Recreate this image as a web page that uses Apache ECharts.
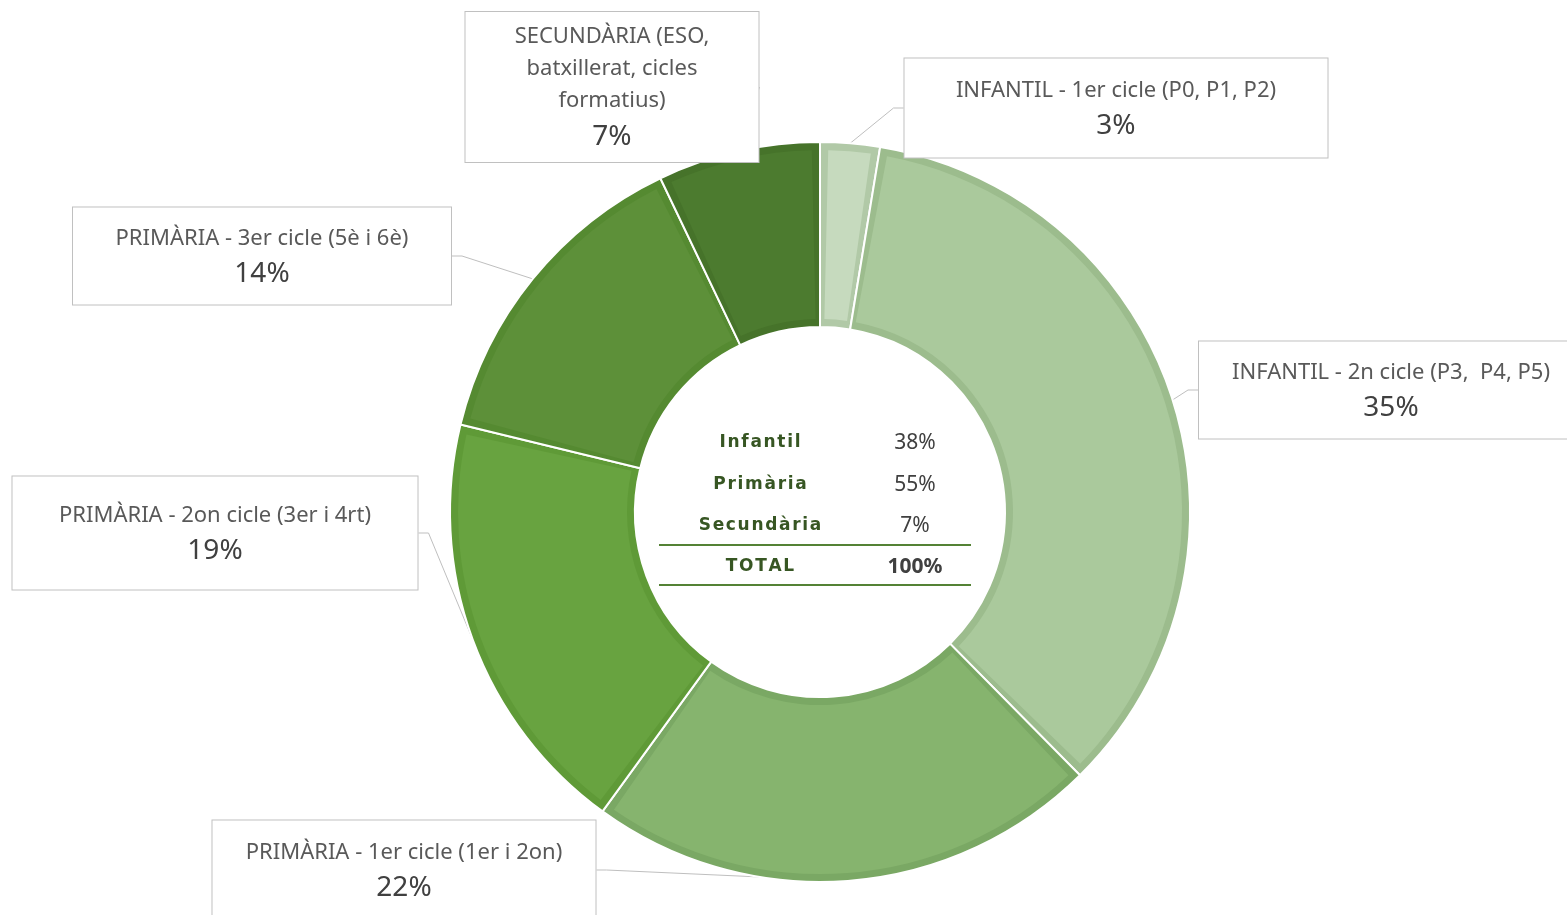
<!DOCTYPE html>
<html>
<head>
<meta charset="utf-8">
<title>Alumnat per etapa</title>
<script src="https://cdn.jsdelivr.net/npm/echarts@6/dist/echarts.min.js"></script>
<style>
  html, body { margin: 0; padding: 0; background: #fff; }
  #chart { width: 1567px; height: 915px; }
</style>
</head>
<body>
<div id="chart"></div>
<script>
// dades llegides del gràfic
const categories = [
  'INFANTIL - 1er cicle (P0, P1, P2)',
  'INFANTIL - 2n cicle (P3,  P4, P5)',
  'PRIMÀRIA - 1er cicle (1er i 2on)',
  'PRIMÀRIA - 2on cicle (3er i 4rt)',
  'PRIMÀRIA - 3er cicle (5è i 6è)',
  'SECUNDÀRIA (ESO,\nbatxillerat, cicles\nformatius)'
]
const values = [2.6, 35.0, 22.4, 18.8, 14.1, 7.1]

// taula central
const summaryLabels = ['Infantil', 'Primària', 'Secundària', 'TOTAL']
const summaryValues = ['38%', '55%', '7%', '100%']

// colors de cada sector (farcit / vora)
const fillColors = ['#c6dabe', '#aac99c', '#86b46e', '#68a340', '#5d9039', '#4c7b2f']
const edgeColors = ['#b1c9a7', '#9cbc8d', '#7aa864', '#5f9a37', '#558a31', '#46732a']

// posició (centre) i marges de cada requadre d'etiqueta
const labelBoxes = [
  { x: 1116, y: 108, w: 423, pad: [16, 0, 11, 0] },
  { x: 1391, y: 390, w: 384, pad: [15, 0, 10, 0] },
  { x: 404, y: 870, w: 383, pad: [16, 0, 11, 0] },
  { x: 215, y: 533, w: 405, pad: [23, 0, 18, 0] },
  { x: 262, y: 256, w: 378, pad: [15, 0, 10, 0] },
  { x: 612, y: 87, w: 293, pad: [9, 0, 5, 0] }
]

const chart = echarts.init(document.getElementById('chart'))

const center = ['52.33%', '55.96%']
const outerR = [185, 370]
const inset = 8

// taula central amb elements gràfics
const rowY = [443, 485, 526, 567]
const tableGraphics = []
summaryLabels.forEach((lab, i) => {
  tableGraphics.push({
    type: 'text',
    x: 760,
    y: rowY[i],
    style: {
      text: lab.split('').join('\u200a'),
      fill: '#375623',
      font: 'bold 17px "DejaVu Sans"',
      align: 'center',
      verticalAlign: 'middle'
    }
  })
  tableGraphics.push({
    type: 'text',
    x: 915,
    y: rowY[i],
    style: {
      text: summaryValues[i],
      fill: '#404040',
      font: (i === 3 ? 'bold ' : '') + '21px "Noto Sans"',
      align: 'center',
      verticalAlign: 'middle'
    }
  })
})
;[545, 585].forEach(y => {
  tableGraphics.push({
    type: 'line',
    shape: { x1: 659, y1: y, x2: 971, y2: y },
    style: { stroke: '#548235', lineWidth: 2 }
  })
})

chart.setOption({
  backgroundColor: '#ffffff',
  animation: false,
  graphic: tableGraphics,
  series: [{
    // vora fosca de cada sector, amb separador blanc
    name: 'etapes',
    type: 'pie',
    center: center,
    radius: outerR,
    startAngle: 90,
    clockwise: true,
    avoidLabelOverlap: false,
    itemStyle: { borderColor: '#ffffff', borderWidth: 2 },
    label: {
      show: true,
      position: 'outside',
      backgroundColor: '#ffffff',
      borderColor: '#c0c0c0',
      borderWidth: 1,
      align: 'center',
      formatter: p => '{n|' + p.name + '}\n{p|' + Math.round(p.percent) + '%}',
      rich: {
        n: {
          fontFamily: 'Noto Sans',
          fontSize: 22,
          color: '#595959',
          lineHeight: 32,
          align: 'center'
        },
        p: {
          fontFamily: 'Noto Sans',
          fontSize: 28,
          color: '#404040',
          lineHeight: 40,
          align: 'center'
        }
      }
    },
    labelLine: {
      show: true,
      length: 10,
      length2: 10,
      lineStyle: { color: '#bfbfbf', width: 1 }
    },
    labelLayout: params => {
      const b = labelBoxes[params.dataIndex]
      return { x: b.x, y: b.y, align: 'center', verticalAlign: 'middle' }
    },
    emphasis: { disabled: true },
    data: categories.map((name, i) => ({
      name: name,
      value: values[i],
      itemStyle: { color: edgeColors[i] },
      label: { width: labelBoxes[i].w, padding: labelBoxes[i].pad }
    }))
  }, {
    // farcit interior de cada sector
    name: 'farcit',
    type: 'pie',
    center: center,
    radius: [outerR[0] + inset, outerR[1] - inset],
    startAngle: 90,
    clockwise: true,
    padAngle: 2.6,
    silent: true,
    label: { show: false },
    labelLine: { show: false },
    emphasis: { disabled: true },
    data: categories.map((name, i) => ({
      name: name,
      value: values[i],
      itemStyle: { color: fillColors[i] }
    }))
  }]
})
</script>
</body>
</html>
